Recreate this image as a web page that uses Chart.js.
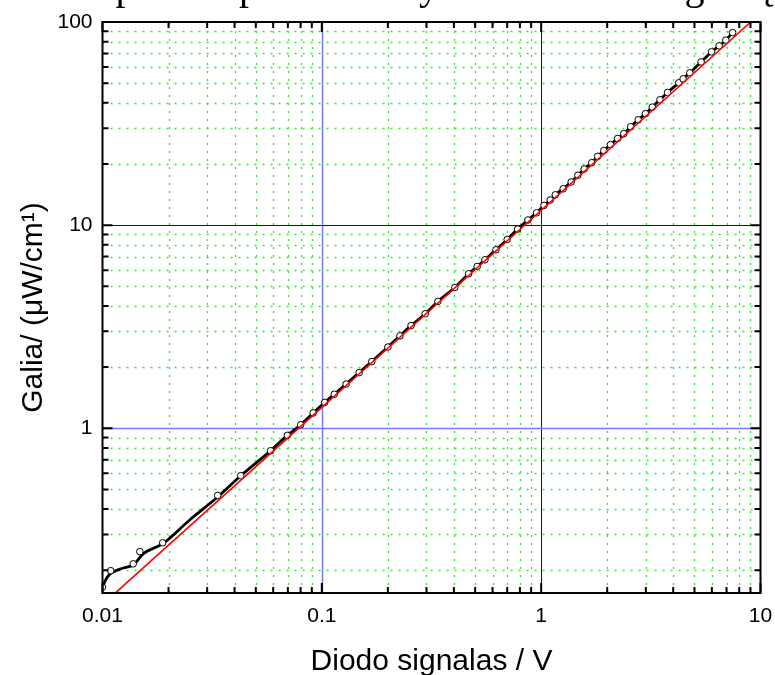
<!DOCTYPE html>
<html>
<head>
<meta charset="utf-8">
<title>Galia nuo diodo signalo</title>
<script src="https://cdn.jsdelivr.net/npm/chart.js"></script>
<style>
  body { margin: 0; background: #fff; }
  #wrap { width: 775px; height: 675px; }
</style>
</head>
<body>
<div id="wrap"><canvas id="chart" width="775" height="675"></canvas></div>
<script>
// matavimai: diodo signalas (V) ir galia (uW/cm)
const signal = [0.0100, 0.0109, 0.0138, 0.0148, 0.0188, 0.0335, 0.0427, 0.0584, 0.0696, 0.0801,
                0.0913, 0.103, 0.114, 0.129, 0.148, 0.169, 0.200, 0.227, 0.255, 0.296,
                0.338, 0.404, 0.467, 0.511, 0.554, 0.622, 0.700, 0.781, 0.870, 0.953,
                1.03, 1.10, 1.16, 1.26, 1.37, 1.47, 1.57, 1.70, 1.81, 1.93,
                2.07, 2.23, 2.38, 2.56, 2.77, 2.99, 3.21, 3.48, 3.77, 4.24,
                4.44, 4.76, 5.36, 5.98, 6.48, 6.95, 7.46];
const power  = [0.165, 0.199, 0.215, 0.247, 0.273, 0.467, 0.584, 0.775, 0.922, 1.04,
                1.19, 1.34, 1.47, 1.65, 1.88, 2.13, 2.51, 2.85, 3.20, 3.66,
                4.21, 4.93, 5.76, 6.26, 6.75, 7.56, 8.50, 9.56, 10.6, 11.5,
                12.5, 13.3, 14.1, 15.1, 16.3, 17.6, 18.9, 20.3, 21.8, 23.3,
                24.9, 26.7, 28.2, 30.5, 33.0, 35.4, 38.1, 41.4, 45.0, 50.2,
                52.5, 56.2, 63.6, 71.3, 76.3, 81.4, 88.7];

// glotni kreive apacioje (toliau eina per taskus)
const curveLowX = [0.0100, 0.01045, 0.0109, 0.01244, 0.01381, 0.01535, 0.01881, 0.02505, 0.0335];
const curveLowY = [0.1655, 0.1832, 0.1929, 0.2051, 0.2123, 0.2412, 0.2701, 0.3546, 0.4586];

// tiesine aproksimacija
const fitX = [0.01152, 9.03];
const fitY = [0.1555, 100];

// asiu dekados
const xDecades = [0.01, 0.1, 1, 10];
const yDecades = [1, 10, 100];
const yMin = 0.1545;

const FONT = "'Liberation Sans', Arial, sans-serif";

function pts(xs, ys) { return xs.map((x, i) => ({ x: x, y: ys[i] })); }

const curveX = curveLowX.concat(signal.slice(6));
const curveY = curveLowY.concat(power.slice(6));

function decadeTicks(decades, min) {
  const out = [];
  for (let i = 0; i < decades.length - 1; i++) {
    for (let m = 1; m < 10; m++) {
      const v = +(decades[i] * m).toPrecision(3);
      if (v >= min) out.push(v);
    }
  }
  out.push(decades[decades.length - 1]);
  return out;
}
const xTickVals = decadeTicks(xDecades, 0.01);
// y asis prasideda zemiau 1, todel pridedam 0.2..0.9
const yTickVals = [0.2, 0.3, 0.4, 0.5, 0.6, 0.7, 0.8, 0.9].concat(decadeTicks(yDecades, 1));

const majorStyle = {
  x: { 0.1: ['#7878ff', 1.5], 1: ['#0000cc', 1] },
  y: { 1: ['#7878ff', 1.5], 10: ['#0000cc', 1] }
};

const gridPlugin = {
  id: 'grid',
  beforeDatasetsDraw(chart) {
    const { ctx, chartArea: a, scales } = chart;
    ctx.save();
    ctx.beginPath();
    ctx.rect(a.left, a.top, a.width, a.height);
    ctx.clip();
    // mazas tinklelis
    ctx.setLineDash([2, 6]);
    ctx.strokeStyle = '#2de82d';
    ctx.lineWidth = 1.3;
    scales.x.ticks.forEach(t => {
      if (xDecades.includes(t.value)) return;
      const p = Math.round(scales.x.getPixelForValue(t.value)) + 0.5;
      ctx.beginPath(); ctx.moveTo(p, a.bottom); ctx.lineTo(p, a.top); ctx.stroke();
    });
    scales.y.ticks.forEach(t => {
      if (yDecades.includes(t.value)) return;
      const p = Math.round(scales.y.getPixelForValue(t.value)) + 0.5;
      ctx.beginPath(); ctx.moveTo(a.left, p); ctx.lineTo(a.right, p); ctx.stroke();
    });
    // dekadu linijos
    ctx.setLineDash([]);
    Object.keys(majorStyle.x).forEach(k => {
      const [c, w] = majorStyle.x[k];
      const p = Math.round(scales.x.getPixelForValue(+k)) + 0.5;
      ctx.strokeStyle = c; ctx.lineWidth = w;
      ctx.beginPath(); ctx.moveTo(p, a.bottom); ctx.lineTo(p, a.top); ctx.stroke();
    });
    Object.keys(majorStyle.y).forEach(k => {
      const [c, w] = majorStyle.y[k];
      const p = Math.round(scales.y.getPixelForValue(+k)) + 0.5;
      ctx.strokeStyle = c; ctx.lineWidth = w;
      ctx.beginPath(); ctx.moveTo(a.left, p); ctx.lineTo(a.right, p); ctx.stroke();
    });
    ctx.restore();
  },
  afterDatasetsDraw(chart) {
    const { ctx, chartArea: a, scales } = chart;
    ctx.save();
    ctx.strokeStyle = '#000';
    ctx.lineWidth = 2;
    ctx.strokeRect(a.left, a.top, a.width, a.height);
    // vidines zymes visose keturiose pusese
    scales.x.ticks.forEach(t => {
      const len = xDecades.includes(t.value) ? 10 : 6;
      const p = scales.x.getPixelForValue(t.value);
      ctx.beginPath();
      ctx.moveTo(p, a.bottom); ctx.lineTo(p, a.bottom - len);
      ctx.moveTo(p, a.top); ctx.lineTo(p, a.top + len);
      ctx.stroke();
    });
    scales.y.ticks.forEach(t => {
      const len = yDecades.includes(t.value) ? 10 : 6;
      const p = scales.y.getPixelForValue(t.value);
      ctx.beginPath();
      ctx.moveTo(a.left, p); ctx.lineTo(a.left + len, p);
      ctx.moveTo(a.right, p); ctx.lineTo(a.right - len, p);
      ctx.stroke();
    });
    ctx.restore();
  },
  afterDraw(chart) {
    // antraste, beveik visa virs lango
    const ctx = chart.ctx;
    ctx.save();
    ctx.font = "40px 'Liberation Serif', 'Times New Roman', serif";
    ctx.fillStyle = '#000';
    ctx.textAlign = 'center';
    ctx.textBaseline = 'alphabetic';
    ctx.fillText('Apšvitos priklausomybė nuo diodo signalų', 430, -1);
    ctx.restore();
  }
};

new Chart(document.getElementById('chart'), {
  type: 'scatter',
  data: {
    datasets: [
      {
        data: pts(fitX, fitY),
        showLine: true,
        borderColor: '#ff0000',
        borderWidth: 1.6,
        pointRadius: 0,
        order: 0
      },
      {
        data: pts(signal, power),
        showLine: false,
        pointRadius: 3.3,
        pointBorderWidth: 1,
        pointBackgroundColor: '#fff',
        pointBorderColor: '#000',
        order: 1
      },
      {
        data: pts(curveX, curveY),
        showLine: true,
        borderColor: '#000',
        borderWidth: 2.8,
        cubicInterpolationMode: 'monotone',
        pointRadius: 0,
        order: 2
      }
    ]
  },
  options: {
    responsive: false,
    animation: false,
    layout: { padding: { top: 22, right: 14.5, left: 0, bottom: 0 } },
    plugins: { legend: { display: false }, tooltip: { enabled: false } },
    scales: {
      x: {
        type: 'logarithmic',
        min: 0.01,
        max: 10,
        grid: { display: false, drawTicks: false },
        border: { display: false },
        afterBuildTicks: s => { s.ticks = xTickVals.map(v => ({ value: v })); },
        afterFit: s => { s.height = 82; s.paddingLeft = 0; s.paddingRight = 0; },
        ticks: {
          autoSkip: false,
          maxRotation: 0,
          padding: 11,
          color: '#000',
          font: { family: FONT, size: 21 },
          callback: v => xDecades.includes(v) ? String(v) : ''
        },
        title: {
          display: true,
          text: 'Diodo signalas / V',
          color: '#000',
          font: { family: FONT, size: 30, lineHeight: 1 },
          padding: { top: 0, bottom: -2 }
        }
      },
      y: {
        type: 'logarithmic',
        min: yMin,
        max: 100,
        grid: { display: false, drawTicks: false },
        border: { display: false },
        afterBuildTicks: s => { s.ticks = yTickVals.map(v => ({ value: v })); },
        afterFit: s => { s.width = 102.5; s.paddingTop = 0; s.paddingBottom = 0; },
        ticks: {
          autoSkip: false,
          padding: 10,
          color: '#000',
          font: { family: FONT, size: 21 },
          callback: v => yDecades.includes(v) ? String(v) : ''
        },
        title: {
          display: true,
          text: 'Galia/ (μW/cm¹)',
          color: '#000',
          font: { family: FONT, size: 30, lineHeight: 1 },
          padding: { top: 19, bottom: 0 }
        }
      }
    }
  },
  plugins: [gridPlugin]
});
</script>
</body>
</html>
